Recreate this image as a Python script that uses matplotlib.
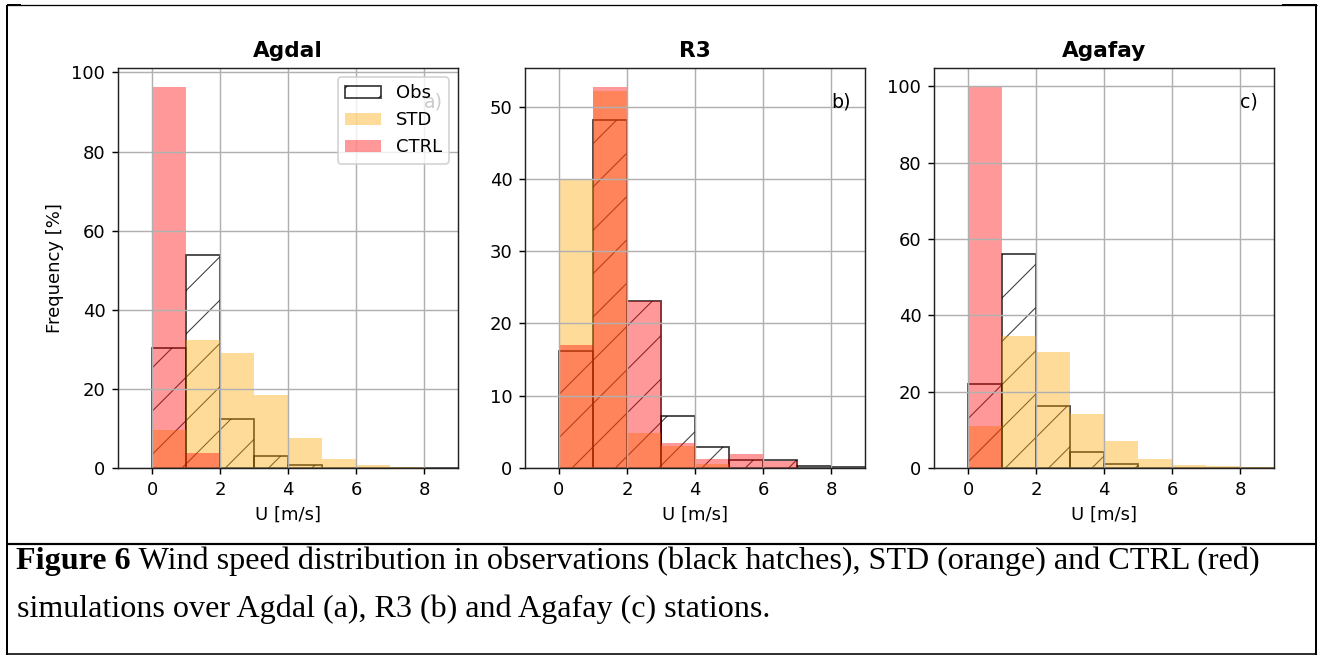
import matplotlib
matplotlib.use("Agg")
import matplotlib.pyplot as plt
from matplotlib.lines import Line2D
import numpy as np

# ---------------- data ----------------
bin_edges = [0, 1, 2, 3, 4, 5, 6, 7, 8, 9]
stations = ["Agdal", "R3", "Agafay"]
panel_letters = ["a)", "b)", "c)"]

agdal_obs = [30.3, 53.9, 12.5, 3.0, 0.7, 0.0, 0.0, 0.0, 0.0]
agdal_std = [9.6, 32.3, 29.0, 18.5, 7.7, 2.3, 0.8, 0.3, 0.1]
agdal_ctrl = [96.3, 3.8, 0.0, 0.0, 0.0, 0.0, 0.0, 0.0, 0.0]

r3_obs = [16.2, 48.2, 23.1, 7.2, 2.9, 1.1, 1.1, 0.3, 0.15]
r3_std = [39.8, 52.2, 4.9, 3.0, 0.5, 0.0, 0.0, 0.0, 0.0]
r3_ctrl = [17.0, 52.7, 23.1, 3.5, 1.3, 1.9, 1.0, 0.0, 0.0]

agafay_obs = [22.0, 56.0, 16.3, 4.2, 1.1, 0.0, 0.0, 0.0, 0.0]
agafay_std = [11.0, 34.5, 30.5, 14.2, 7.2, 2.4, 0.8, 0.4, 0.2]
agafay_ctrl = [99.8, 0.0, 0.0, 0.0, 0.0, 0.0, 0.0, 0.0, 0.0]

obs_series = [agdal_obs, r3_obs, agafay_obs]
std_series = [agdal_std, r3_std, agafay_std]
ctrl_series = [agdal_ctrl, r3_ctrl, agafay_ctrl]

caption_bold = "Figure 6"
caption_line1 = " Wind speed distribution in observations (black hatches), STD (orange) and CTRL (red)"
caption_line2 = "simulations over Agdal (a), R3 (b) and Agafay (c) stations."

# ---------------- style ----------------
W, H, D = 1325, 655, 130

plt.rcParams.update({
    "font.family": "DejaVu Sans",
    "font.size": 10,
    "hatch.linewidth": 0.6,
    "grid.color": "#b0b0b0",
    "axes.edgecolor": "#222222",
})

fig = plt.figure(figsize=(W / D, H / D), dpi=D)
fig.patch.set_facecolor("white")

def fx(px):
    return px / W

def fy(py):
    return 1 - py / H

ax_lefts = [118, 525, 934]
ax_w = 340
ax_top, ax_bot = 68, 468

edges = np.array(bin_edges, dtype=float)
for i in range(3):
    ax = fig.add_axes([fx(ax_lefts[i]), fy(ax_bot), ax_w / W, (ax_bot - ax_top) / H])
    ax.bar(edges[:-1], obs_series[i], width=1, align="edge", fill=False,
           hatch="/", edgecolor="black", alpha=0.75, linewidth=1.0, label="Obs")
    ax.bar(edges[:-1], std_series[i], width=1, align="edge", color="orange",
           alpha=0.4, linewidth=0, label="STD")
    ax.bar(edges[:-1], ctrl_series[i], width=1, align="edge", color="red",
           alpha=0.4, linewidth=0, label="CTRL")
    ax.set_xlim(-1, 9)
    ax.grid(True)
    ax.set_title(stations[i], fontweight="bold")
    ax.set_xlabel("U [m/s]")
    ax.text(0.9, 0.915, panel_letters[i], transform=ax.transAxes, va="center",
            ha="left", fontsize=10.5)
    if i == 0:
        ax.set_ylabel("Frequency [%]")
        ax.legend(loc="upper right")

# ---------------- frame lines ----------------
def hline(y, x0, x1, lw_px):
    fig.add_artist(Line2D([fx(x0), fx(x1)], [fy(y), fy(y)], color="black",
                          linewidth=lw_px * 72 / D, transform=fig.transFigure,
                          solid_capstyle="butt"))

def vline(x, y0, y1, lw_px):
    fig.add_artist(Line2D([fx(x), fx(x)], [fy(y0), fy(y1)], color="black",
                          linewidth=lw_px * 72 / D, transform=fig.transFigure,
                          solid_capstyle="butt"))

hline(5, 7, 1317, 1.3)
hline(5.3, 7, 21, 2.0)
hline(5.3, 1282, 1317, 2.0)
vline(7.5, 4.5, 654.5, 2.0)
vline(1316.3, 4.5, 654.5, 2.0)
hline(543.5, 7, 1317, 2.2)
hline(654, 7, 1317, 1.6)

# ---------------- caption ----------------
cap_size = 15.0
serif = "Liberation Serif"
t_b = fig.text(fx(16), fy(569), caption_bold, fontsize=cap_size, fontweight="bold",
               family=serif, va="baseline", ha="left")
t_r = fig.text(fx(16), fy(569), caption_line1, fontsize=cap_size,
               family=serif, va="baseline", ha="left")
t_2 = fig.text(fx(17), fy(617), caption_line2, fontsize=cap_size,
               family=serif, va="baseline", ha="left")
fig.canvas.draw()
r = fig.canvas.get_renderer()
wb = t_b.get_window_extent(r).width
wr = t_r.get_window_extent(r).width
scale = (1260 - 16) / (wb + wr)
cap_size *= scale
for t in (t_b, t_r, t_2):
    t.set_fontsize(cap_size)
fig.canvas.draw()
wb = t_b.get_window_extent(r).width
t_r.set_x(fx(16 + wb))

fig.savefig("out.png", dpi=D, facecolor="white")
